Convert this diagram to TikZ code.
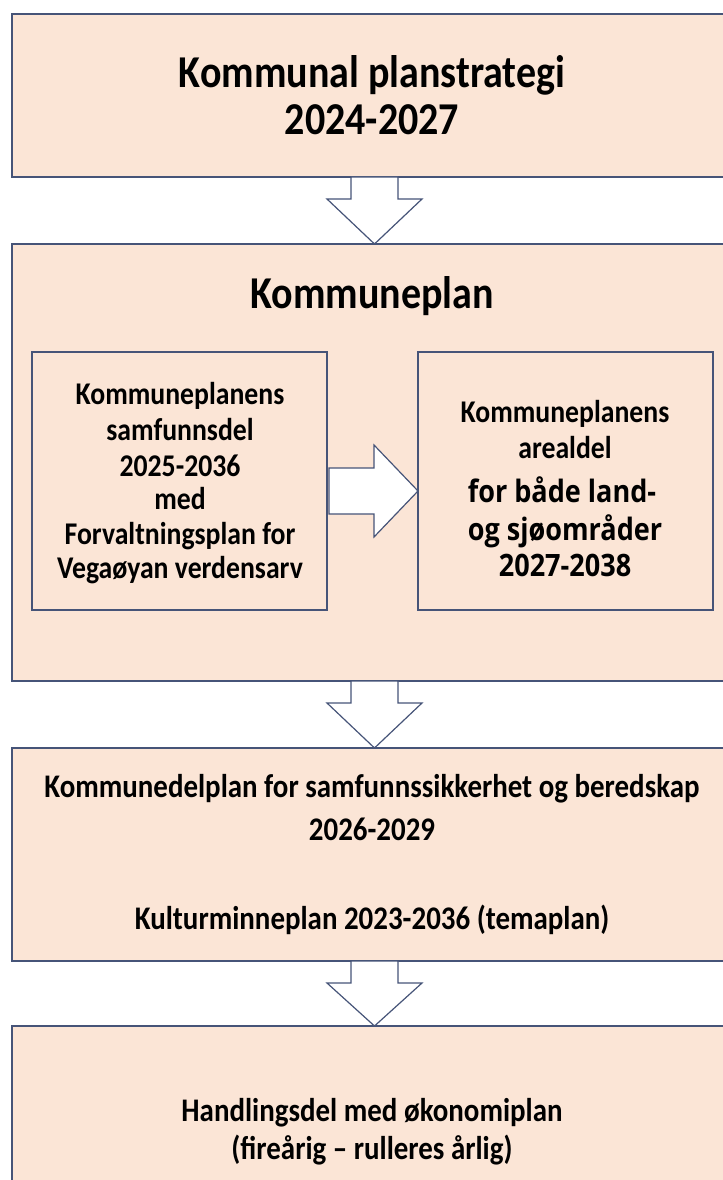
\documentclass[tikz,border=0pt]{standalone}
\usepackage{fontspec}
\setmainfont{Carlito}
\newfontfamily\aptos{Open Sans}
\newcommand\tallbox[1]{\scalebox{1}[1.14]{#1}}
\definecolor{boxfill}{RGB}{251,229,214}
\definecolor{boxline}{RGB}{70,84,120}
\begin{document}
\begin{tikzpicture}[x=0.75pt,y=-0.75pt,
  panel/.style={draw=boxline,line width=1.1pt,fill=boxfill},
  inner/.style={draw=boxline,line width=0.9pt,fill=boxfill},
  blockarrow/.style={draw=boxline,line width=0.9pt,fill=white,line join=miter},
  txt/.style={font=\bfseries,text=black,inner sep=0pt,anchor=base}]
\useasboundingbox (0,0) rectangle (723,1180);
\clip (0,0) rectangle (723,1180);
% panels
\draw[panel] (12,14) rectangle (740,177);
\draw[panel] (12,244) rectangle (740,681);
\draw[panel] (12,748) rectangle (740,961);
\draw[panel] (12,1026) rectangle (740,1200);
\draw[inner] (32,352) rectangle (327,610);
\draw[inner] (418,352) rectangle (713,610);
% down arrows
\foreach \t/\b in {177/244, 681/748, 961/1026}{
  \draw[blockarrow] (351,\t) -- (351,\t+22) -- (327,\t+22) -- (374.5,\b) -- (422,\t+22) -- (398,\t+22) -- (398,\t) -- cycle;
}
% right arrow
\draw[blockarrow] (329,468) -- (374,468) -- (374,445) -- (418,491) -- (374,537) -- (374,514) -- (329,514) -- cycle;
% texts
\node[txt,font=\bfseries\fontsize{30}{32}\selectfont] (t1a) at (372,88) {\tallbox{Kommunal planstrategi}};
\node[txt,font=\bfseries\fontsize{30}{32}\selectfont] (t1b) at (372,135) {\tallbox{2024-2027}};
\node[txt,font=\bfseries\fontsize{30}{32}\selectfont] (t2) at (372,309) {\tallbox{Kommuneplan}};
\foreach \n/\y/\s in {a/404/Kommuneplanens, b/440/samfunnsdel, c/476/2025-2036, d/509/med, e/544/Forvaltningsplan for, f/578/Vegaøyan verdensarv}{
  \node[txt,font=\bfseries\fontsize{20.8}{22}\selectfont] (l\n) at (180,\y) {\tallbox{\s}};
}
\node[txt,font=\bfseries\fontsize{20.8}{22}\selectfont] (ra) at (565,422) {\tallbox{Kommuneplanens}};
\node[txt,font=\bfseries\fontsize{20.8}{22}\selectfont] (rb) at (565,458) {\tallbox{arealdel}};
\node[txt,font=\aptos\bfseries\fontsize{20.3}{22}\selectfont] (rc) at (562,502) {\tallbox{for både land-}};
\node[txt,font=\aptos\bfseries\fontsize{20.3}{22}\selectfont] (rd) at (565,540) {\tallbox{og sjøområder}};
\node[txt,font=\aptos\bfseries\fontsize{20.3}{22}\selectfont] (re) at (565,576) {\tallbox{2027-2038}};
\node[txt,font=\bfseries\fontsize{21.7}{24}\selectfont] (t3a) at (372,797) {\tallbox{Kommunedelplan for samfunnssikkerhet og beredskap}};
\node[txt,font=\bfseries\fontsize{21.7}{24}\selectfont] (t3b) at (372,840) {\tallbox{2026-2029}};
\node[txt,font=\bfseries\fontsize{21.7}{24}\selectfont] (t3c) at (372,929) {\tallbox{Kulturminneplan 2023-2036 (temaplan)}};
\node[txt,font=\bfseries\fontsize{21.7}{24}\selectfont] (t4a) at (372,1121) {\tallbox{Handlingsdel med økonomiplan}};
\node[txt,font=\bfseries\fontsize{21.7}{24}\selectfont] (t4b) at (372,1159) {\tallbox{(fireårig – rulleres årlig)}};
\end{tikzpicture}
\end{document}
